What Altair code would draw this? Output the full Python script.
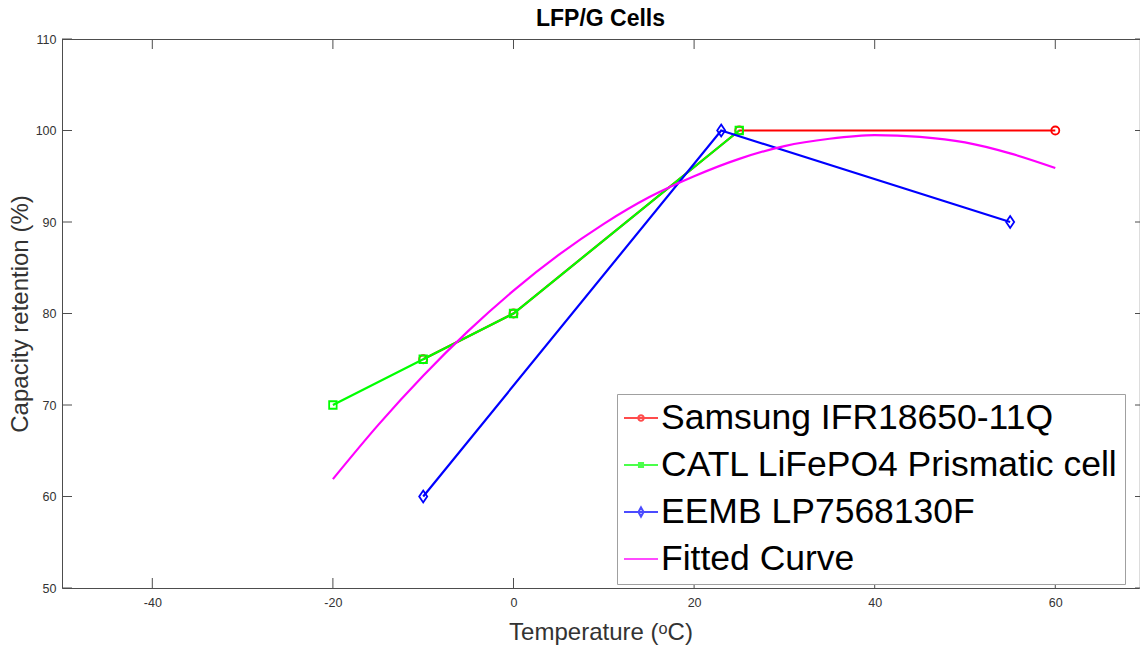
import altair as alt
import pandas as pd

# ---- data ----
series_names = ["Samsung IFR18650-11Q", "CATL LiFePO4 Prismatic cell", "EEMB LP7568130F", "Fitted Curve"]
series_colors = ["#ff0000", "#00ff00", "#0000ff", "#ff00ff"]

samsung_x = [-10, 0, 25, 60]
samsung_y = [75, 80, 100, 100]

catl_x = [-20, -10, 0, 25]
catl_y = [70, 75, 80, 100]

eemb_x = [-10, 23, 55]
eemb_y = [60, 100, 90]

fit_x = [-20, -15, -10, -5, 0, 5, 10, 15, 20, 25, 30, 35, 40, 45, 50, 55, 60]
fit_y = [61.9, 67.8, 73.2, 78.1, 82.5, 86.4, 89.8, 92.7, 95.0, 96.9, 98.3, 99.1, 99.5, 99.3, 98.7, 97.5, 95.9]

x_ticks = [-40, -20, 0, 20, 40, 60]
y_ticks = [50, 60, 70, 80, 90, 100, 110]

# ---- styling ----
W, H = 1077, 549
FONT = "Liberation Sans"
AX = "#4d4d4d"
LBL = "#333333"

marker_shapes = [
    "circle",
    "square",
    "M0,-1L0.67,0L0,1L-0.67,0Z",
    None,
]
marker_sizes = [64, 56, 144, 0]

legend_paths = [
    "M-1,0H1M0.16,0A0.16,0.16,0,1,1,-0.16,0A0.16,0.16,0,1,1,0.16,0Z",
    "M-1,0H1M-0.12,-0.12H0.12V0.12H-0.12Z",
    "M-1,0H1M0,-0.27L0.15,0L0,0.27L-0.15,0Z",
    "M-1,0H1",
]

frames = []
for name, xs, ys in zip(series_names, [samsung_x, catl_x, eemb_x, fit_x], [samsung_y, catl_y, eemb_y, fit_y]):
    frames.append(pd.DataFrame({"series": name, "x": xs, "y": ys}))
df = pd.concat(frames, ignore_index=True)

xscale = alt.Scale(domain=[-50, 69.27], nice=False, zero=False)
yscale = alt.Scale(domain=[50, 110], nice=False, zero=False)

x_enc = alt.X(
    "x:Q",
    scale=xscale,
    axis=alt.Axis(
        values=x_ticks, title="Temperature (ᵒC)", grid=False, ticks=False, tickSize=0,
        labelFont=FONT, labelFontSize=12.5, labelColor=LBL, labelPadding=8,
        labelExpr="'' + datum.value",
        titleFont=FONT, titleFontSize=24, titleFontWeight="normal", titleColor=LBL, titlePadding=12,
        domainColor=AX, domainWidth=1,
    ),
)
y_enc = alt.Y(
    "y:Q",
    scale=yscale,
    axis=alt.Axis(
        values=y_ticks, title="Capacity retention (%)", grid=False, ticks=False, tickSize=0,
        labelFont=FONT, labelFontSize=12.5, labelColor=LBL, labelPadding=6,
        titleFont=FONT, titleFontSize=24, titleFontWeight="normal", titleColor=LBL, titlePadding=3,
        domainColor=AX, domainWidth=1,
    ),
)

base = alt.Chart(df)
layers = []
for i, name in enumerate(series_names):
    sub = base.transform_filter(alt.datum.series == name)
    line = sub.mark_line(color=series_colors[i], strokeWidth=2.2, interpolate="monotone" if i == 3 else "linear").encode(
        x=x_enc, y=y_enc
    )
    layers.append(line)
    if marker_shapes[i] is not None:
        pts = sub.mark_point(
            shape=marker_shapes[i], filled=False, color=series_colors[i],
            strokeWidth=1.8, size=marker_sizes[i], opacity=1,
        ).encode(x=x_enc, y=y_enc)
        layers.append(pts)

# tick marks pointing inward (MATLAB style)
xt = pd.DataFrame({"x": x_ticks})
yt = pd.DataFrame({"y": y_ticks})
tick_bottom = alt.Chart(xt).mark_rule(color=AX, strokeWidth=1).encode(
    x=alt.X("x:Q", scale=xscale), y=alt.value(H), y2=alt.value(H - 10))
tick_top = alt.Chart(xt).mark_rule(color=AX, strokeWidth=1).encode(
    x=alt.X("x:Q", scale=xscale), y=alt.value(0), y2=alt.value(10))
tick_left = alt.Chart(yt).mark_rule(color=AX, strokeWidth=1).encode(
    y=alt.Y("y:Q", scale=yscale), x=alt.value(0), x2=alt.value(10))
tick_right = alt.Chart(yt).mark_rule(color=AX, strokeWidth=1).encode(
    y=alt.Y("y:Q", scale=yscale), x=alt.value(W + 1), x2=alt.value(W - 4))
top_border = alt.Chart(xt).mark_rule(color=AX, strokeWidth=1).encode(
    x=alt.value(0), x2=alt.value(W + 1), y=alt.value(0.5))

legend = alt.Legend(
    title=None, orient="none", legendX=555, legendY=355,
    fillColor="white", strokeColor="#a0a0a0", padding=6, cornerRadius=0,
    labelFont=FONT, labelFontSize=35.5, labelColor="black", labelLimit=700, labelOffset=2,
    rowPadding=10, symbolSize=1156, symbolStrokeWidth=2, symbolFillColor="transparent",
)
legend_layer = (
    alt.Chart(pd.DataFrame({"series": series_names}))
    .transform_filter("false")
    .mark_point(filled=False, strokeWidth=2, size=1156)
    .encode(
        color=alt.Color("series:N", scale=alt.Scale(domain=series_names, range=series_colors), legend=legend),
        shape=alt.Shape("series:N", scale=alt.Scale(domain=series_names, range=legend_paths), legend=legend),
    )
)

chart = (
    alt.layer(tick_bottom, tick_top, tick_left, tick_right, top_border, *layers, legend_layer)
    .properties(
        width=W, height=H,
        title=alt.TitleParams("LFP/G Cells", font=FONT, fontSize=23, fontWeight="bold", color="black",
                              anchor="middle", offset=2),
        autosize=alt.AutoSizeParams(type="none"),
        padding={"left": 62, "top": 39, "right": 1, "bottom": 60},
    )
    .configure_view(stroke=None)
    .configure(background="white")
)

chart.save("out.html", embed_options={"renderer": "svg", "actions": False})
